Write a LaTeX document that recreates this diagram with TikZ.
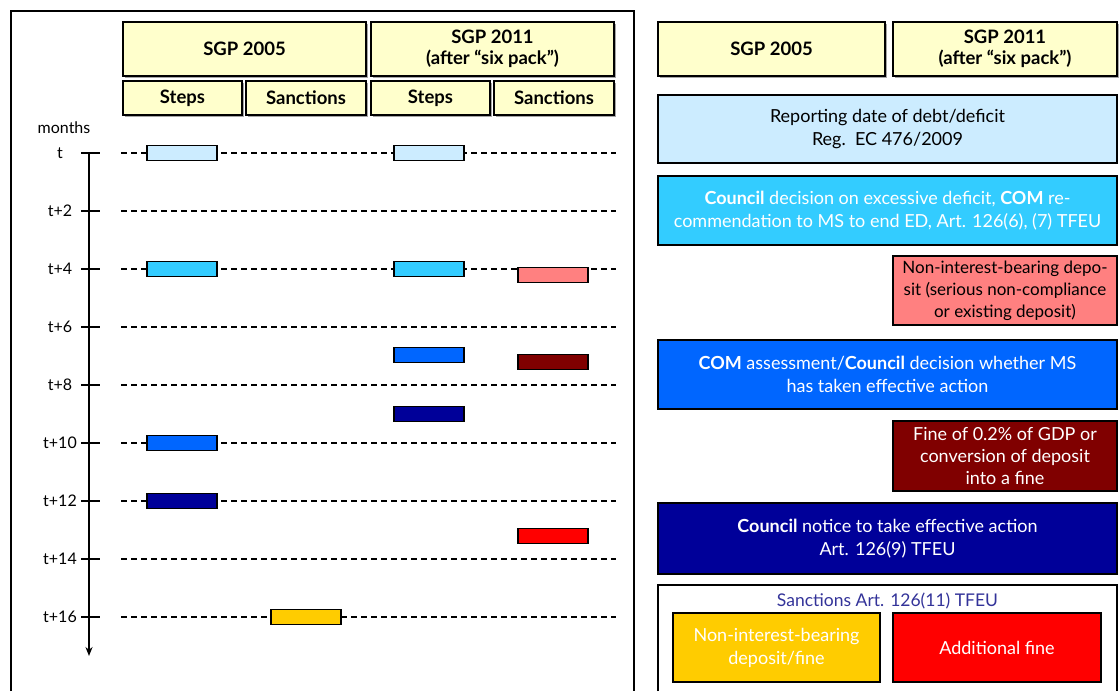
\documentclass[tikz,border=0pt]{standalone}
\usepackage{fontspec}
\setmainfont{Lato}
\usepackage{xcolor}
\usepackage{tikz}
\usetikzlibrary{positioning,calc,arrows.meta,shadows}

\definecolor{hdrYellow}{RGB}{255,255,204}
\definecolor{lightBlue}{RGB}{204,236,255}
\definecolor{edpCyan}{RGB}{51,204,255}
\definecolor{edpPink}{RGB}{255,128,128}
\definecolor{edpBlue}{RGB}{0,102,255}
\definecolor{edpDarkRed}{RGB}{128,0,0}
\definecolor{edpNavy}{RGB}{0,0,153}
\definecolor{edpRed}{RGB}{255,0,0}
\definecolor{edpGold}{RGB}{255,204,0}
\definecolor{titleNavy}{RGB}{51,51,153}

\begin{document}
\begin{tikzpicture}[x=1pt,y=-1pt,
    hdr/.style={draw=black, line width=1.2pt, fill=hdrYellow, align=center, inner sep=0pt,
        font=\fontsize{18.5}{21}\selectfont\bfseries,
        drop shadow={shadow xshift=1.5pt, shadow yshift=-1.5pt, fill=gray!70, opacity=1}},
    bar/.style={draw=black, line width=1.2pt, minimum width=70pt, minimum height=15pt, inner sep=0pt},
    info/.style={draw=black, line width=1.5pt, align=center, inner sep=0pt,
        font=\fontsize{18}{23}\selectfont},
    grid/.style={dash pattern=on 6pt off 4pt, line width=1.6pt},
    tlab/.style={font=\fontsize{16}{16}\selectfont}]
    \useasboundingbox (0,0) rectangle (1119,691);

    % Timeline
    \begin{scope}
        \draw[line width=2pt] (11,691) -- (11,11) -- (634,11) -- (634,691);

        \node[hdr, minimum width=243pt, minimum height=54pt] (sgpA) at (244.5,49) {SGP 2005};
        \node[hdr, minimum width=243pt, minimum height=54pt] (sgpB) at (492.5,49)
            {SGP 2011\\(after “six pack”)};
        \node[hdr, minimum width=119pt, minimum height=34pt] (stepA) at (182.5,98) {Steps};
        \node[hdr, minimum width=120pt, minimum height=34pt] (sancA) at (306,98) {Sanctions};
        \node[hdr, minimum width=119pt, minimum height=34pt] (stepB) at (430.5,98) {Steps};
        \node[hdr, minimum width=120pt, minimum height=34pt] (sancB) at (554,98) {Sanctions};

        \node[font=\fontsize{16}{16}\selectfont] (months) at (64,128) {months};
        \coordinate (axtop) at (89,153);
        \coordinate (axend) at (89,656);
        \draw[line width=1.8pt, -{Stealth[length=9pt,width=7pt]}] (axtop) -- (axend);

        \foreach \k/\lab in {0/t,1/t+2,2/t+4,3/t+6,4/t+8,5/t+10,6/t+12,7/t+14,8/t+16} {
            \node[tlab] (tk\k) at (60,153+58*\k) {\lab};
            \coordinate (ga\k) at (121,153+58*\k);
            \coordinate (gb\k) at (616,153+58*\k);
            \draw[line width=1.8pt] (81,153+58*\k) -- (100,153+58*\k);
            \draw[grid] (ga\k) -- (gb\k);
        }

        % bars
        \node[bar, fill=lightBlue] (b1) at (182,153) {};
        \node[bar, fill=lightBlue] (b2) at (429,153) {};
        \node[bar, fill=edpCyan] (b3) at (182,269) {};
        \node[bar, fill=edpCyan] (b4) at (429,269) {};
        \node[bar, fill=edpPink] (b5) at (553,275) {};
        \node[bar, fill=edpBlue] (b6) at (429,355) {};
        \node[bar, fill=edpDarkRed] (b7) at (553,362) {};
        \node[bar, fill=edpNavy] (b8) at (429,414) {};
        \node[bar, fill=edpBlue] (b9) at (182,443) {};
        \node[bar, fill=edpNavy] (b10) at (182,501) {};
        \node[bar, fill=edpRed] (b11) at (553,536) {};
        \node[bar, fill=edpGold] (b12) at (306,617) {};
    \end{scope}

    % Legend
    \begin{scope}
        \node[hdr, minimum width=227pt, minimum height=54pt] (lgA) at (771.5,49) {SGP 2005};
        \node[hdr, minimum width=224pt, minimum height=54pt] (lgB) at (1005,49)
            {SGP 2011\\(after “six pack”)};

        \node[info, fill=lightBlue, minimum width=459pt, minimum height=68pt] (rep) at (887.5,129)
            {Reporting date of debt/deficit\\Reg.\ \ EC 476/2009};
        \node[info, fill=edpCyan, text=white, minimum width=459pt, minimum height=69pt] (dec) at (887.5,210.5)
            {\textbf{Council} decision on excessive deficit, \textbf{COM} re-\\commendation to MS to end ED, Art. 126(6), (7) TFEU};
        \node[info, fill=edpPink, minimum width=224pt, minimum height=69pt,
            font=\fontsize{17}{22}\selectfont] (dep) at (1005,290.5)
            {Non-interest-bearing depo-\\sit (serious non-compliance\\or existing deposit)};
        \node[info, fill=edpBlue, text=white, minimum width=459pt, minimum height=69pt] (ass) at (887.5,374.5)
            {\textbf{COM} assessment/\textbf{Council} decision whether MS\\has taken effective action};
        \node[info, fill=edpDarkRed, text=white, minimum width=224pt, minimum height=70pt,
            font=\fontsize{18}{22}\selectfont] (fine) at (1005,456)
            {Fine of 0.2\% of GDP or\\conversion of deposit\\into a fine};
        \node[info, fill=edpNavy, text=white, minimum width=459pt, minimum height=71pt] (notice) at (887.5,538.5)
            {\textbf{Council} notice to take effective action\\Art. 126(9) TFEU};

        \draw[line width=2pt] (658,691) -- (658,585) -- (1117,585) -- (1117,691);
        \node[text=titleNavy, font=\fontsize{17.5}{17.5}\selectfont] (sanc) at (887.5,601) {Sanctions Art. 126(11) TFEU};
        \node[info, fill=edpGold, text=white, minimum width=207pt, minimum height=69pt] (ydep) at (776.5,647.5)
            {Non-interest-bearing\\deposit/fine};
        \node[info, fill=edpRed, text=white, minimum width=208pt, minimum height=69pt] (addf) at (997,647.5)
            {Additional fine};
    \end{scope}
\end{tikzpicture}
\end{document}
